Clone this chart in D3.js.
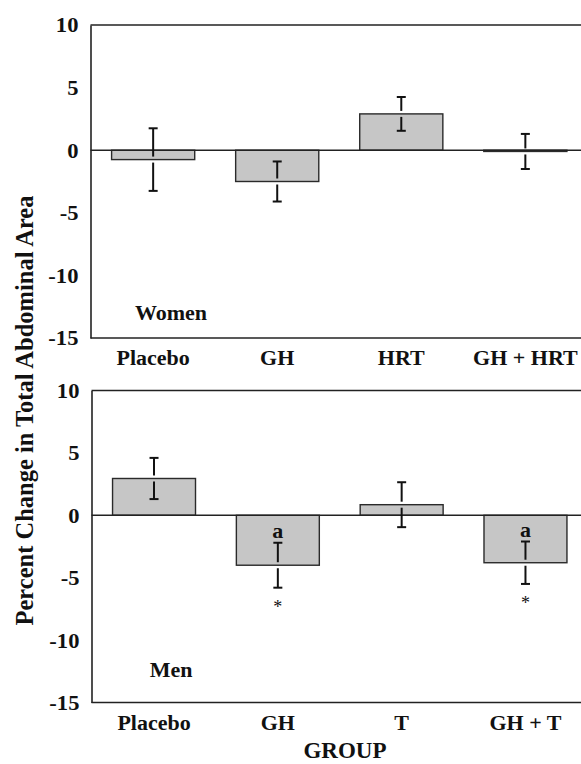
<!DOCTYPE html>
<html>
<head>
<meta charset="utf-8">
<script src="https://cdn.jsdelivr.net/npm/d3@7"></script>
<style>
  body { margin: 0; background: #fff; }
  svg text { font-family: "Liberation Serif", "Times New Roman", serif; fill: #111; }
</style>
</head>
<body>
<div class="bar-diagram"></div>
<script>
var womenGroups = ["Placebo", "GH", "HRT", "GH + HRT"];
var womenMean = [-0.75, -2.5, 2.9, -0.1];
var womenErr = [2.5, 1.6, 1.35, 1.4];

var menGroups = ["Placebo", "GH", "T", "GH + T"];
var menMean = [2.95, -4.0, 0.85, -3.8];
var menErr = [1.65, 1.8, 1.8, 1.7];
var menAbove = ["", "a", "", "a"];
var menBelow = ["", "*", "", "*"];

var yTicks = [10, 5, 0, -5, -10, -15];

var svgWidth = 581;
var svgHeight = 764;
var stretch = "scale(1.1,1)";

var svg = d3.select('.bar-diagram')
  .append('svg')
  .attr('width', svgWidth)
  .attr('height', svgHeight);

function drawPanel(opts) {
  var g = svg.append("g");

  var xScale = d3.scaleBand()
    .domain(opts.groups)
    .range([opts.left, 588])
    .paddingInner(0.33)
    .paddingOuter(0.17);

  var yScale = d3.scaleLinear()
    .domain([-15, 10])
    .range([opts.bottom, opts.top]);

  // frame: top and bottom lines (right side runs off the page)
  [10, -15].forEach(function (v) {
    g.append("line")
      .attr("x1", opts.left).attr("x2", svgWidth + 10)
      .attr("y1", yScale(v)).attr("y2", yScale(v))
      .attr("stroke", "#222").attr("stroke-width", 1.6);
  });

  // Y axis, plain hyphen minus like the original
  var yAxis = d3.axisLeft(yScale).tickValues(yTicks).tickSize(0).tickPadding(11)
    .tickFormat(function (d) { return String(d); });
  var ya = g.append("g")
    .attr("transform", "translate(" + opts.left + ",0)")
    .call(yAxis);
  ya.select(".domain").attr("stroke", "#222").attr("stroke-width", 1.6);
  ya.selectAll("text")
    .attr("font-size", 20.5).attr("font-weight", "bold")
    .attr("font-family", "Liberation Serif")
    .attr("fill", "#111")
    .attr("dy", "0.34em")
    .attr("transform", stretch);

  // bars
  g.selectAll("rect.bar")
    .data(opts.mean)
    .enter()
    .append("rect")
    .attr("class", "bar")
    .attr("x", function (d, i) { return xScale(opts.groups[i]); })
    .attr("width", xScale.bandwidth())
    .attr("y", function (d) { return yScale(Math.max(0, d)); })
    .attr("height", function (d) { return Math.abs(yScale(0) - yScale(d)); })
    .attr("fill", "#c6c6c6")
    .attr("stroke", "#2a2a2a")
    .attr("stroke-width", 1.4);

  // zero line
  g.append("line")
    .attr("x1", opts.left).attr("x2", svgWidth + 10)
    .attr("y1", yScale(0)).attr("y2", yScale(0))
    .attr("stroke", "#222").attr("stroke-width", 1.6);

  // error bars, broken where they cross the bar edge
  var gap = 3;
  opts.mean.forEach(function (m, i) {
    var cx = xScale(opts.groups[i]) + xScale.bandwidth() / 2;
    var yHi = yScale(m + opts.err[i]);
    var yLo = yScale(m - opts.err[i]);
    var yM = yScale(m);
    var e = g.append("g").attr("stroke", "#111").attr("stroke-width", 2);
    e.append("line").attr("x1", cx).attr("x2", cx).attr("y1", yHi).attr("y2", yM - gap);
    e.append("line").attr("x1", cx).attr("x2", cx).attr("y1", yM + gap).attr("y2", yLo);
    e.append("line").attr("x1", cx - 4.5).attr("x2", cx + 4.5).attr("y1", yHi).attr("y2", yHi);
    e.append("line").attr("x1", cx - 4.5).attr("x2", cx + 4.5).attr("y1", yLo).attr("y2", yLo);

    if (opts.above && opts.above[i]) {
      g.append("text")
        .attr("transform", "translate(" + cx + "," + (yHi - 4.5) + ")")
        .attr("text-anchor", "middle")
        .attr("font-size", 22).attr("font-weight", 600)
        .text(opts.above[i]);
    }
    if (opts.below && opts.below[i]) {
      g.append("text")
        .attr("transform", "translate(" + cx + "," + (yLo + 25) + ")")
        .attr("text-anchor", "middle")
        .attr("font-size", 18)
        .text(opts.below[i]);
    }
  });

  // X axis labels
  var xAxis = d3.axisBottom(xScale).tickSize(0).tickPadding(0);
  var xa = g.append("g")
    .attr("transform", "translate(0," + opts.labelY + ")")
    .call(xAxis);
  xa.select(".domain").remove();
  xa.selectAll("text")
    .attr("y", 0).attr("dy", 0)
    .attr("font-size", 20).attr("font-weight", "bold")
    .attr("font-family", "Liberation Serif")
    .attr("fill", "#111")
    .attr("transform", stretch);

  // panel name
  g.append("text")
    .attr("transform", "translate(171," + opts.nameY + ") " + stretch)
    .attr("text-anchor", "middle")
    .attr("font-size", 20).attr("font-weight", "bold")
    .text(opts.name);
}

drawPanel({
  groups: womenGroups, mean: womenMean, err: womenErr,
  left: 90.5, top: 25, bottom: 338, labelY: 365, name: "Women", nameY: 320
});

drawPanel({
  groups: menGroups, mean: menMean, err: menErr, above: menAbove, below: menBelow,
  left: 91.5, top: 390.5, bottom: 702.5, labelY: 730, name: "Men", nameY: 677
});

// axis titles
svg.append("text")
  .attr("transform", "translate(33,410.5) rotate(-90)")
  .attr("text-anchor", "middle")
  .attr("font-size", 24.5).attr("font-weight", "bold")
  .text("Percent Change in Total Abdominal Area");

svg.append("text")
  .attr("x", 345).attr("y", 758)
  .attr("text-anchor", "middle")
  .attr("font-size", 23).attr("font-weight", "bold")
  .text("GROUP");
</script>
</body>
</html>
